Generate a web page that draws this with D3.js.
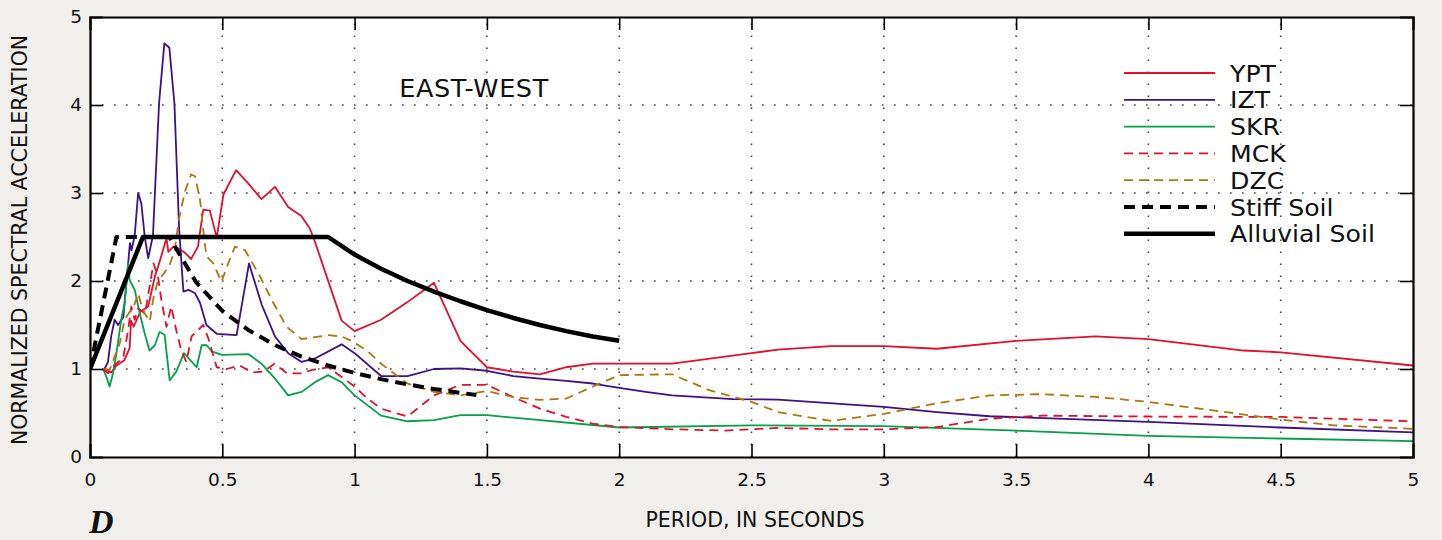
<!DOCTYPE html>
<html>
<head>
<meta charset="utf-8">
<script src="https://cdn.jsdelivr.net/npm/d3@7"></script>
<style>
  body { margin: 0; background: #f1efeb; }
  svg text { font-family: "DejaVu Sans", "Liberation Sans", Arial, sans-serif; fill: #111; }
</style>
</head>
<body>
<svg id="chart" width="1442" height="540"></svg>
<script>
// *** Data (period in seconds, normalized SA) ***
var xTicks = [0, 0.5, 1, 1.5, 2, 2.5, 3, 3.5, 4, 4.5, 5];
var yTicks = [0, 1, 2, 3, 4, 5];

var ypt = [[0.055,1.0],[0.08,0.96],[0.1,1.04],[0.13,1.1],[0.15,1.24],[0.155,1.55],[0.165,1.48],[0.19,1.65],[0.22,1.71],
  [0.245,2.05],[0.257,2.16],[0.276,2.35],[0.289,2.49],[0.296,2.33],[0.315,2.39],[0.333,2.37],[0.359,2.32],[0.382,2.25],
  [0.408,2.39],[0.428,2.81],[0.453,2.8],[0.479,2.49],[0.504,2.98],[0.552,3.26],[0.598,3.11],[0.648,2.93],[0.699,3.07],
  [0.749,2.84],[0.799,2.74],[0.83,2.6],[0.844,2.5],[0.951,1.55],[1.0,1.43],[1.1,1.56],[1.2,1.76],[1.3,1.98],[1.4,1.32],
  [1.5,1.02],[1.6,0.97],[1.7,0.94],[1.8,1.02],[1.9,1.06],[2.0,1.06],[2.2,1.06],[2.5,1.18],[2.6,1.22],[2.8,1.26],[3.0,1.26],
  [3.2,1.23],[3.5,1.32],[3.8,1.37],[4.0,1.34],[4.36,1.21],[4.5,1.19],[5.0,1.04]];

var izt = [[0.055,1.0],[0.068,1.08],[0.08,1.37],[0.093,1.56],[0.106,1.5],[0.126,1.59],[0.151,2.43],[0.157,2.35],[0.169,2.52],
  [0.182,3.0],[0.194,2.88],[0.207,2.5],[0.22,2.26],[0.238,2.52],[0.261,4.02],[0.281,4.7],[0.3,4.65],[0.319,4.02],[0.337,2.58],
  [0.353,1.88],[0.372,1.9],[0.397,1.86],[0.416,1.75],[0.44,1.5],[0.479,1.4],[0.554,1.385],[0.601,2.2],[0.649,1.73],
  [0.699,1.37],[0.749,1.18],[0.8,1.08],[0.85,1.12],[0.951,1.28],[1.0,1.18],[1.1,0.92],[1.2,0.92],[1.3,1.0],[1.4,1.006],
  [1.5,0.98],[1.6,0.92],[1.7,0.89],[1.8,0.865],[1.9,0.835],[2.0,0.785],[2.1,0.74],[2.2,0.7],[2.43,0.657],[2.6,0.653],
  [3.0,0.57],[3.2,0.51],[3.4,0.463],[4.0,0.4],[4.5,0.335],[5.0,0.28]];

var skr = [[0.049,1.0],[0.062,0.91],[0.074,0.8],[0.087,0.95],[0.1,1.18],[0.118,1.56],[0.131,1.75],[0.144,2.2],[0.15,2.01],
  [0.169,1.9],[0.188,1.63],[0.207,1.4],[0.225,1.21],[0.245,1.27],[0.263,1.42],[0.282,1.39],[0.301,0.87],[0.326,0.97],
  [0.355,1.18],[0.403,1.02],[0.422,1.27],[0.441,1.27],[0.46,1.2],[0.498,1.16],[0.598,1.17],[0.648,1.06],[0.705,0.87],
  [0.749,0.7],[0.8,0.74],[0.85,0.85],[0.9,0.93],[0.951,0.85],[1.0,0.7],[1.1,0.47],[1.2,0.406],[1.3,0.418],[1.4,0.475],
  [1.5,0.475],[2.0,0.335],[2.5,0.36],[3.0,0.35],[3.5,0.3],[4.0,0.24],[4.5,0.21],[5.0,0.18]];

var mck = [[0.049,1.0],[0.068,0.95],[0.087,1.02],[0.106,1.08],[0.125,1.12],[0.144,1.44],[0.156,1.71],[0.169,1.56],
  [0.182,1.69],[0.208,1.63],[0.24,2.2],[0.257,2.05],[0.27,1.78],[0.289,1.48],[0.307,1.71],[0.326,1.44],[0.345,1.21],
  [0.364,1.08],[0.384,1.37],[0.428,1.5],[0.447,1.35],[0.479,1.02],[0.517,1.0],[0.567,1.04],[0.611,0.96],[0.655,0.97],
  [0.697,1.06],[0.745,0.95],[0.797,0.95],[0.84,0.99],[0.9,1.02],[0.951,0.91],[1.0,0.8],[1.05,0.66],[1.1,0.55],[1.2,0.46],
  [1.3,0.7],[1.4,0.82],[1.5,0.82],[1.6,0.68],[1.7,0.55],[1.8,0.455],[1.9,0.38],[2.0,0.34],[2.2,0.315],[2.4,0.3],
  [2.6,0.33],[2.8,0.315],[3.0,0.315],[3.2,0.34],[3.4,0.435],[3.6,0.47],[4.0,0.46],[4.5,0.455],[5.0,0.406]];

var dzc = [[0.055,1.0],[0.074,0.99],[0.093,1.14],[0.112,1.29],[0.131,1.56],[0.15,1.65],[0.163,1.69],[0.182,1.86],
  [0.194,1.73],[0.207,1.63],[0.226,1.54],[0.238,1.78],[0.257,2.01],[0.276,2.07],[0.301,2.18],[0.32,2.35],[0.336,2.7],
  [0.359,3.02],[0.382,3.21],[0.397,3.19],[0.416,2.92],[0.428,2.58],[0.44,2.28],[0.466,2.2],[0.497,1.99],[0.517,2.16],
  [0.548,2.39],[0.586,2.35],[0.643,2.05],[0.693,1.75],[0.743,1.48],[0.8,1.34],[0.9,1.385],[0.95,1.37],[0.995,1.31],
  [1.05,1.2],[1.1,1.06],[1.2,0.835],[1.3,0.74],[1.4,0.7],[1.5,0.75],[1.6,0.68],[1.7,0.65],[1.8,0.665],[1.9,0.8],
  [2.0,0.93],[2.2,0.94],[2.34,0.76],[2.5,0.626],[2.6,0.51],[2.8,0.41],[3.0,0.49],[3.2,0.61],[3.4,0.7],[3.6,0.714],
  [3.8,0.683],[4.0,0.626],[4.14,0.57],[4.32,0.5],[4.5,0.425],[4.7,0.36],[5.0,0.32]];

var stiffSoil = [[0,1.0],[0.1,2.5],[0.3,2.5],[0.4,1.99],[0.5,1.66],[0.6,1.44],[0.7,1.27],[0.8,1.14],[0.9,1.04],
  [1.0,0.955],[1.1,0.885],[1.2,0.825],[1.3,0.773],[1.4,0.729],[1.46,0.705]];

var alluvialSoil = [[0,1.0],[0.2,2.5],[0.9,2.5],[1.0,2.3],[1.1,2.14],[1.2,2.0],[1.3,1.88],[1.4,1.77],[1.5,1.67],
  [1.6,1.58],[1.7,1.5],[1.8,1.43],[1.9,1.37],[2.0,1.32]];

var series = [
  {name: "YPT", data: ypt, color: "#e0102e", width: 1.8, dash: null},
  {name: "IZT", data: izt, color: "#3c1286", width: 1.8, dash: null},
  {name: "SKR", data: skr, color: "#04a04a", width: 1.8, dash: null},
  {name: "MCK", data: mck, color: "#e0102e", width: 1.8, dash: "9,6"},
  {name: "DZC", data: dzc, color: "#a87812", width: 1.8, dash: "9,6"},
  {name: "Stiff Soil", data: stiffSoil, color: "#000", width: 4, dash: "11,7"},
  {name: "Alluvial Soil", data: alluvialSoil, color: "#000", width: 4.5, dash: null}
];

// *** Chart building ***
var svg = d3.select("#chart");

var margin = {top: 17, right: 29, bottom: 83, left: 90},
    width = 1442 - margin.left - margin.right,
    height = 540 - margin.top - margin.bottom;

var x = d3.scaleLinear().domain([0, 5]).range([0, width]);
var y = d3.scaleLinear().domain([0, 5]).range([height, 0]);

var g = svg.append("g")
    .attr("transform", "translate(" + margin.left + "," + margin.top + ")");

g.append("rect")
    .attr("width", width)
    .attr("height", height)
    .attr("fill", "#fff");

g.append("clipPath").attr("id", "clip")
  .append("rect").attr("width", width).attr("height", height);

// dotted grid
var grid = g.append("g").attr("stroke", "#444").attr("stroke-width", 1.6)
    .attr("stroke-dasharray", "1.6,10.4");
grid.selectAll(".vgrid").data(xTicks.slice(1, -1)).enter().append("line")
    .attr("x1", d => x(d)).attr("x2", d => x(d))
    .attr("y1", height).attr("y2", 0);
grid.selectAll(".hgrid").data(yTicks.slice(1, -1)).enter().append("line")
    .attr("x1", 0).attr("x2", width)
    .attr("y1", d => y(d)).attr("y2", d => y(d));

// series lines
var lineMaker = d3.line()
    .x(d => x(d[0]))
    .y(d => y(d[1]));

var linesG = g.append("g").attr("clip-path", "url(#clip)");
series.forEach(function (s) {
    linesG.append("path")
        .attr("d", lineMaker(s.data))
        .attr("fill", "none")
        .attr("stroke", s.color)
        .attr("stroke-width", s.width)
        .attr("stroke-linejoin", "round")
        .attr("stroke-dasharray", s.dash);
});

// axes, ticks pointing inward, on all four sides
var tickLen = 13;
var xAxis = d3.axisBottom(x).tickValues(xTicks).tickSize(-tickLen).tickPadding(16)
    .tickFormat(d3.format("~g"));
var yAxis = d3.axisLeft(y).tickValues(yTicks).tickSize(-tickLen).tickPadding(8)
    .tickFormat(d3.format("d"));

var xAxisG = g.append("g").attr("transform", "translate(0," + height + ")").call(xAxis);
var yAxisG = g.append("g").call(yAxis);
var topG = g.append("g").call(d3.axisTop(x).tickValues(xTicks).tickSize(-tickLen).tickFormat(""));
var rightG = g.append("g").attr("transform", "translate(" + width + ",0)")
    .call(d3.axisRight(y).tickValues(yTicks).tickSize(-tickLen).tickFormat(""));

[xAxisG, yAxisG, topG, rightG].forEach(function (a) {
    a.select(".domain").attr("stroke", "#000").attr("stroke-width", 2.2);
    a.selectAll(".tick line").attr("stroke", "#000").attr("stroke-width", 1.6);
    a.selectAll(".tick text").attr("font-size", 18.5).attr("fill", "#111")
        .style("font-family", "'DejaVu Sans', 'Liberation Sans', Arial, sans-serif");
});
// edge ticks sit on the frame
[xAxisG, topG, yAxisG, rightG].forEach(function (a) {
    a.selectAll(".tick").filter(d => d === 0 || d === 5).select("line").remove();
});

// *** Titles ***
g.append("text")
    .attr("x", 474 - margin.left).attr("y", 97 - margin.top)
    .attr("text-anchor", "middle")
    .attr("font-size", 25.5)
    .attr("letter-spacing", 0.6)
    .text("EAST-WEST");

svg.append("text")
    .attr("transform", "translate(27," + (margin.top + height / 2 + 3) + ") rotate(-90)")
    .attr("text-anchor", "middle")
    .attr("font-size", 20.5)
    .text("NORMALIZED SPECTRAL ACCELERATION");

svg.append("text")
    .attr("x", 755)
    .attr("y", 527)
    .attr("text-anchor", "middle")
    .attr("font-size", 20.5)
    .text("PERIOD, IN SECONDS");

svg.append("text")
    .attr("x", 89).attr("y", 533)
    .attr("font-size", 34)
    .attr("font-weight", "bold")
    .attr("font-style", "italic")
    .style("font-family", "'Liberation Serif', 'DejaVu Serif', serif")
    .text("D");

// *** Legend ***
var legendG = g.selectAll(".legend")
    .data(series).enter().append("g")
    .attr("class", "legend")
    .attr("transform", (d, i) => "translate(" + (1124 - margin.left) + "," + (73 - margin.top + i * 26.8) + ")");

legendG.append("line")
    .attr("x1", 0).attr("x2", 91)
    .attr("y1", 0).attr("y2", 0)
    .attr("stroke", d => d.color)
    .attr("stroke-width", d => d.width)
    .attr("stroke-dasharray", d => d.dash);

// wide face like the original: slightly smaller size, stretched horizontally
legendG.append("text")
    .attr("transform", "translate(106,8.5) scale(1.12,1)")
    .attr("font-size", 22.5)
    .text(d => d.name);
</script>
</body>
</html>
